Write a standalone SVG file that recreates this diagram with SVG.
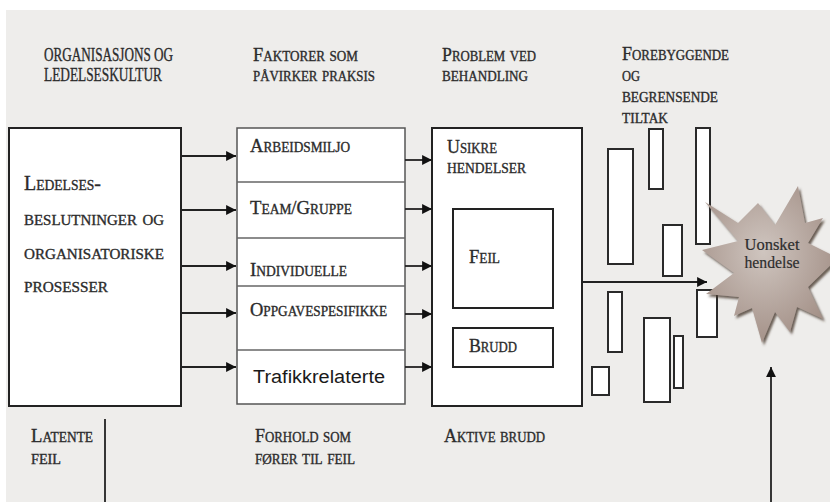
<svg xmlns="http://www.w3.org/2000/svg" width="830" height="502" viewBox="0 0 830 502">
<defs>
<style>
.bg{fill:#eeedeb}
.box{fill:#fff;stroke:#222;stroke-width:2}
.mbox{fill:#fff;stroke:#555;stroke-width:1.5}
.div{stroke:#666;stroke-width:1.3}
.bar{fill:#fff;stroke:#2a2a2a;stroke-width:2}
.sc{font-family:"Liberation Serif","DejaVu Serif",serif;font-variant:small-caps;fill:#2b2b2b;stroke:#2b2b2b;stroke-width:0.35;font-size:19.5px}
.scl{font-family:"Liberation Serif","DejaVu Serif",serif;font-variant:small-caps;fill:#2b2b2b;stroke:#2b2b2b;stroke-width:0.35;font-size:22px}
.sans{font-family:"Liberation Sans","DejaVu Sans",sans-serif;fill:#1a1a1a;font-size:18px}
.star{font-family:"Liberation Serif","DejaVu Serif",serif;fill:#2e2e2e;stroke:#2e2e2e;stroke-width:0.2;font-size:16.5px}
.ln{stroke:#222;stroke-width:1.8;fill:none}
</style>
<marker id="ah" viewBox="0 0 10 10" refX="10" refY="5" markerWidth="5.5" markerHeight="5.5" orient="auto" markerUnits="strokeWidth">
<path d="M0,0 L10,5 L0,10 Z" fill="#111"/>
</marker>
<radialGradient id="sg" cx="0.45" cy="0.42" r="0.6">
<stop offset="0" stop-color="#cfc5bf"/>
<stop offset="1" stop-color="#a39087"/>
</radialGradient>
<filter id="sh" x="-20%" y="-20%" width="140%" height="140%">
<feDropShadow dx="2" dy="2.5" stdDeviation="1" flood-color="#4a3a32" flood-opacity="0.8"/>
</filter>
</defs>

<rect x="0" y="0" width="830" height="502" fill="#fff"/>
<rect class="bg" x="6" y="10" width="824" height="492"/>

<g id="headers">
<text class="sc" x="44" y="61" textLength="129" lengthAdjust="spacingAndGlyphs">ORGANISASJONS OG</text>
<text class="sc" x="44" y="81" textLength="118" lengthAdjust="spacingAndGlyphs">LEDELSESKULTUR</text>
<text class="sc" x="253" y="61" textLength="105" lengthAdjust="spacingAndGlyphs">Faktorer som</text>
<text class="sc" x="253" y="81" textLength="122" lengthAdjust="spacingAndGlyphs">påvirker praksis</text>
<text class="sc" x="442" y="61" textLength="94" lengthAdjust="spacingAndGlyphs">Problem ved</text>
<text class="sc" x="442" y="81" textLength="86" lengthAdjust="spacingAndGlyphs">behandling</text>
<text class="sc" x="622" y="60" textLength="107" lengthAdjust="spacingAndGlyphs">Forebyggende</text>
<text class="sc" x="622" y="81" textLength="18" lengthAdjust="spacingAndGlyphs">og</text>
<text class="sc" x="622" y="102" textLength="96" lengthAdjust="spacingAndGlyphs">begrensende</text>
<text class="sc" x="622" y="123" textLength="46" lengthAdjust="spacingAndGlyphs">tiltak</text>
</g>

<g id="ledelse">
<rect class="box" x="9" y="128" width="172" height="278"/>
<text class="scl" x="24" y="190" textLength="77" lengthAdjust="spacingAndGlyphs">Ledelses-</text>
<text class="scl" x="24" y="225" textLength="140" lengthAdjust="spacingAndGlyphs">beslutninger og</text>
<text class="scl" x="24" y="259" textLength="140" lengthAdjust="spacingAndGlyphs">organisatoriske</text>
<text class="scl" x="24" y="292" textLength="84" lengthAdjust="spacingAndGlyphs">prosesser</text>
</g>

<g id="faktorer">
<rect class="mbox" x="237" y="128" width="168" height="276"/>
<line class="div" x1="237" y1="182" x2="405" y2="182"/>
<line class="div" x1="237" y1="238" x2="405" y2="238"/>
<line class="div" x1="237" y1="286" x2="405" y2="286"/>
<line class="div" x1="237" y1="350" x2="405" y2="350"/>
<text class="sc" x="250" y="152" textLength="100" lengthAdjust="spacingAndGlyphs">Arbeidsmiljo</text>
<text class="sc" x="250" y="214" textLength="102" lengthAdjust="spacingAndGlyphs">Team/Gruppe</text>
<text class="sc" x="250" y="276" textLength="97" lengthAdjust="spacingAndGlyphs">Individuelle</text>
<text class="sc" x="250" y="316" textLength="137" lengthAdjust="spacingAndGlyphs">Oppgavespesifikke</text>
<text class="sans" x="253" y="383" textLength="132" lengthAdjust="spacingAndGlyphs">Trafikkrelaterte</text>
</g>

<g id="usikre">
<rect class="box" x="432" y="128" width="150" height="278"/>
<text class="sc" x="447" y="153" textLength="50" lengthAdjust="spacingAndGlyphs">Usikre</text>
<text class="sc" x="447" y="173" textLength="79" lengthAdjust="spacingAndGlyphs">hendelser</text>
</g>

<g id="feil">
<rect class="box" x="453" y="209" width="100" height="99"/>
<text class="sc" x="469" y="263" textLength="31" lengthAdjust="spacingAndGlyphs">Feil</text>
</g>

<g id="brudd">
<rect class="box" x="453" y="328" width="100" height="39"/>
<text class="sc" x="469" y="352" textLength="48" lengthAdjust="spacingAndGlyphs">Brudd</text>
</g>

<g id="barrierer">
<rect class="bar" x="608" y="149" width="25" height="115"/>
<rect class="bar" x="649" y="129" width="14" height="60"/>
<rect class="bar" x="696" y="128" width="14" height="116"/>
<rect class="bar" x="663" y="225" width="19" height="51"/>
<rect class="bar" x="608" y="292" width="14" height="60"/>
<rect class="bar" x="697" y="290" width="20" height="47"/>
<rect class="bar" x="644" y="318" width="26" height="84"/>
<rect class="bar" x="674" y="336" width="9" height="52"/>
<rect class="bar" x="592" y="367" width="17" height="28"/>
</g>

<g id="uonsket">
<path d="M705,202 L738,223 L758,203 L775,225 L798,186 L805,223 L823,218 L808,243 L838,258 L808,287 L823,319 L797,307 L790,332 L775,312 L762,343 L752,308 L734,316 L739,297 L706,294 L734,273 L702,250 L738,241 Z" fill="url(#sg)" filter="url(#sh)"/>
<text class="star" x="772" y="250" text-anchor="middle" textLength="55" lengthAdjust="spacingAndGlyphs">Uonsket</text>
<text class="star" x="772" y="268" text-anchor="middle" textLength="55" lengthAdjust="spacingAndGlyphs">hendelse</text>
</g>

<g id="bunntekst">
<text class="sc" x="31" y="442" textLength="62" lengthAdjust="spacingAndGlyphs">Latente</text>
<text class="sc" x="31" y="464" textLength="30" lengthAdjust="spacingAndGlyphs">feil</text>
<text class="sc" x="255" y="442" textLength="96" lengthAdjust="spacingAndGlyphs">Forhold som</text>
<text class="sc" x="255" y="464" textLength="100" lengthAdjust="spacingAndGlyphs">fører til feil</text>
<text class="sc" x="444" y="442" textLength="101" lengthAdjust="spacingAndGlyphs">Aktive brudd</text>
</g>

<g id="connectors">
<line class="ln" x1="181" y1="156" x2="236" y2="156" marker-end="url(#ah)"/>
<line class="ln" x1="181" y1="210" x2="236" y2="210" marker-end="url(#ah)"/>
<line class="ln" x1="181" y1="266" x2="236" y2="266" marker-end="url(#ah)"/>
<line class="ln" x1="181" y1="313" x2="236" y2="313" marker-end="url(#ah)"/>
<line class="ln" x1="181" y1="367" x2="236" y2="367" marker-end="url(#ah)"/>
<line class="ln" x1="405" y1="160" x2="432" y2="160" marker-end="url(#ah)"/>
<line class="ln" x1="405" y1="209" x2="432" y2="209" marker-end="url(#ah)"/>
<line class="ln" x1="405" y1="266" x2="432" y2="266" marker-end="url(#ah)"/>
<line class="ln" x1="405" y1="314" x2="432" y2="314" marker-end="url(#ah)"/>
<line class="ln" x1="405" y1="367" x2="432" y2="367" marker-end="url(#ah)"/>
<line class="ln" x1="582" y1="282" x2="707" y2="282" marker-end="url(#ah)"/>
<line class="ln" x1="105" y1="502" x2="105" y2="419"/>
<line class="ln" x1="771" y1="502" x2="771" y2="367" marker-end="url(#ah)"/>
</g>
</svg>
